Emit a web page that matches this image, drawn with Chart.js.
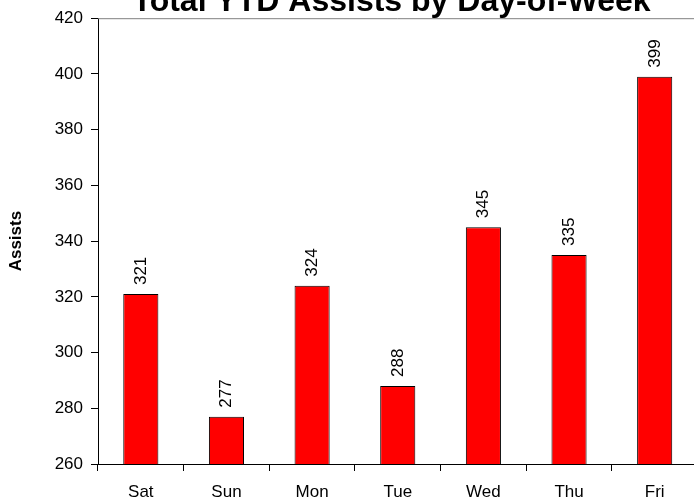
<!DOCTYPE html>
<html>
<head>
<meta charset="utf-8">
<script src="https://cdn.jsdelivr.net/npm/chart.js@4"></script>
<style>
  html, body { margin: 0; padding: 0; background: #fff; overflow: hidden; }
  #wrap { position: relative; width: 700px; height: 499px; }
</style>
</head>
<body>
<div id="wrap"><canvas id="c"></canvas></div>
<script>
const categories = ['Sat', 'Sun', 'Mon', 'Tue', 'Wed', 'Thu', 'Fri'];
const assists = [321, 277, 324, 288, 345, 335, 399];
const chartTitle = 'Total YTD Assists by Day-of-Week';
const yAxisTitle = 'Assists';
const yMin = 260, yMax = 420, yStep = 20;

const FONT = "'Liberation Sans', Arial, sans-serif";

const decorPlugin = {
  id: 'decor',
  beforeDatasetsDraw(chart) {
    const { ctx, chartArea } = chart;
    ctx.save();
    ctx.strokeStyle = '#808080';
    ctx.lineWidth = 1;
    ctx.beginPath();
    ctx.moveTo(chartArea.left, chartArea.top + 0.5);
    ctx.lineTo(chartArea.right, chartArea.top + 0.5);
    ctx.stroke();
    ctx.restore();
  },
  afterDatasetsDraw(chart) {
    const { ctx } = chart;
    const meta = chart.getDatasetMeta(0);
    const data = chart.data.datasets[0].data;
    ctx.save();
    ctx.fillStyle = '#000';
    ctx.font = '17px ' + FONT;
    ctx.textAlign = 'left';
    ctx.textBaseline = 'alphabetic';
    meta.data.forEach((bar, i) => {
      ctx.save();
      ctx.translate(bar.x, bar.y - 9);
      ctx.rotate(-Math.PI / 2);
      ctx.fillText(String(data[i]), 0, 5);
      ctx.restore();
    });
    // title
    ctx.font = 'bold 32px ' + FONT;
    ctx.textAlign = 'center';
    ctx.fillText(chartTitle, 391.5, 11);
    ctx.restore();
  }
};

new Chart(document.getElementById('c'), {
  type: 'bar',
  data: {
    labels: categories,
    datasets: [{
      data: assists,
      backgroundColor: '#FF0000',
      borderColor: '#000000',
      borderWidth: 1,
      borderSkipped: false,
      barPercentage: 0.41,
      categoryPercentage: 1.0
    }]
  },
  options: {
    responsive: true,
    maintainAspectRatio: false,
    animation: false,
    layout: { padding: { top: 15, right: 2.5, left: 0, bottom: 0 } },
    plugins: { legend: { display: false }, tooltip: { enabled: false }, title: { display: false } },
    scales: {
      x: {
        afterFit: s => { s.height = 35; },
        grid: { drawOnChartArea: false, drawTicks: true, tickLength: 7, color: '#000', offset: true },
        border: { display: true, color: '#000', width: 1 },
        ticks: { color: '#000', font: { family: FONT, size: 17 }, padding: 11, maxRotation: 0 }
      },
      y: {
        min: yMin, max: yMax,
        afterFit: s => { s.width = 98; },
        grid: { drawOnChartArea: false, drawTicks: true, tickLength: 7, color: '#000' },
        border: { display: true, color: '#000', width: 1 },
        ticks: { stepSize: yStep, color: '#000', font: { family: FONT, size: 17 }, padding: 8 },
        title: { display: true, text: yAxisTitle, color: '#000', font: { family: FONT, size: 17, weight: 'bold' }, padding: { top: 6, bottom: 0 } }
      }
    }
  },
  plugins: [decorPlugin]
});
</script>
</body>
</html>
